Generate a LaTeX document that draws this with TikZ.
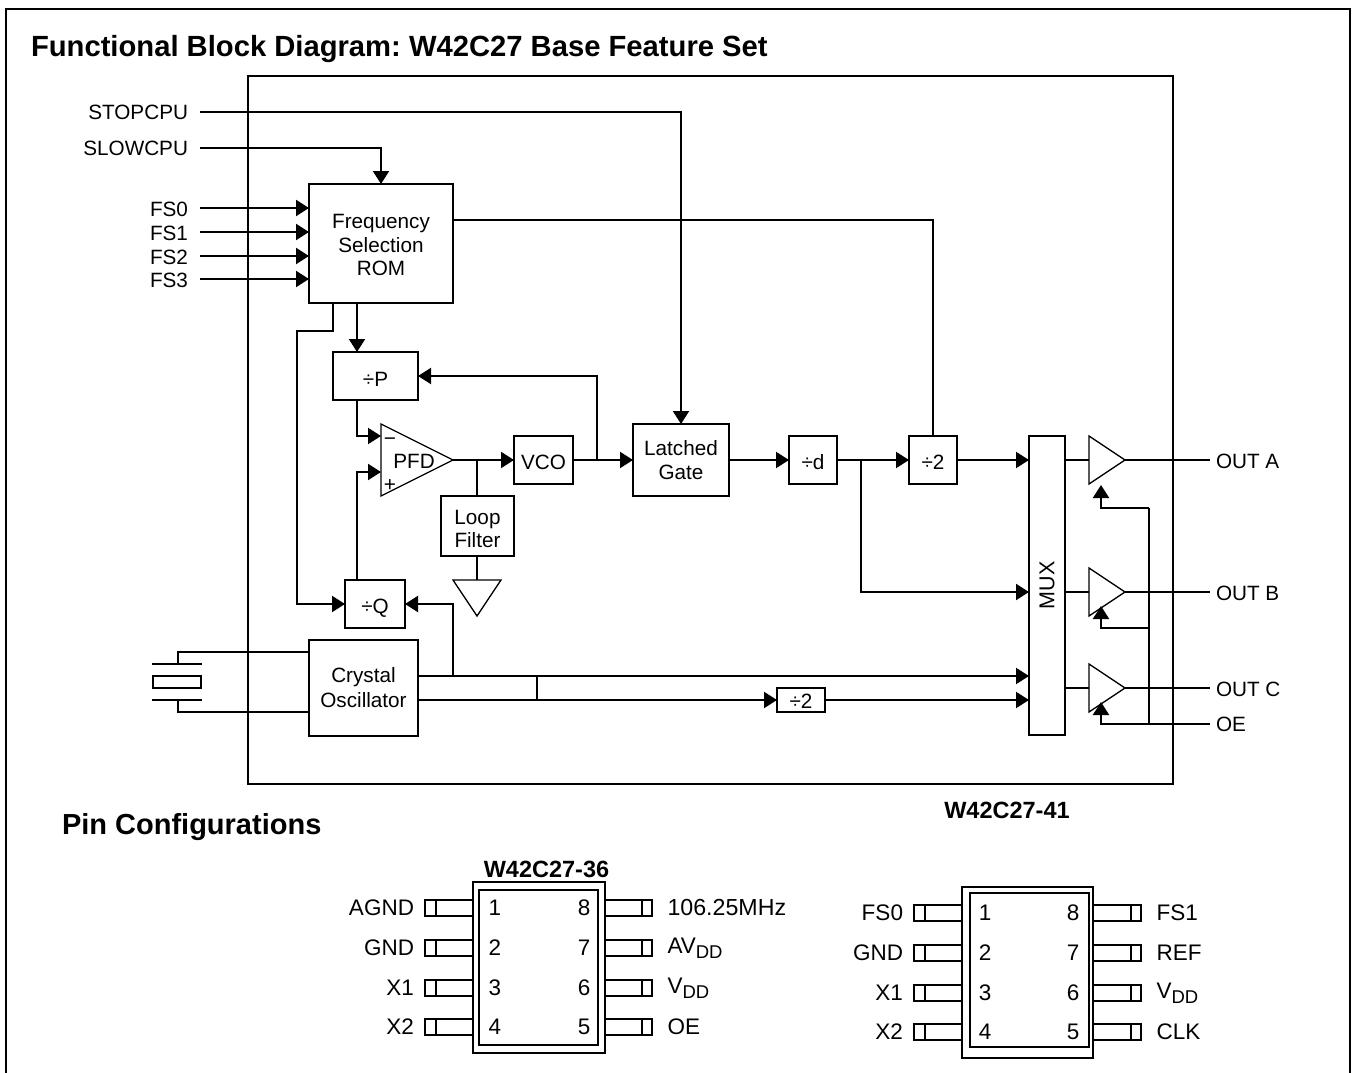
\documentclass[tikz,border=0pt]{standalone}
\usepackage{fontspec}
\setmainfont{Liberation Sans}
\usetikzlibrary{arrows.meta,calc}
\newcommand{\sbs}[1]{\raisebox{-5pt}{\fontsize{18.5}{18}\selectfont #1}}
\newcommand{\topstrut}[1]{\rule{0pt}{#1pt}}
\frenchspacing
\tikzset{
  wire/.style={line width=2.1pt,line join=miter},
  arr/.style={wire,-{Triangle[length=13pt,width=16pt,sep=0pt]}},
  blk/.style={draw,line width=2.1pt,inner sep=0pt,outer sep=0pt,align=center,font=\fontsize{20.7}{23.5}\selectfont},
  sgl/.style={draw,line width=2.1pt,inner sep=0pt,outer sep=0pt,font=\fontsize{20.7}{24}\selectfont,text height=18pt,text depth=0pt},
  thin tri/.style={line width=1.3pt,line join=miter},
  lab/.style={inner sep=0pt,outer sep=0pt,font=\fontsize{20.7}{24}\selectfont},
  labr/.style={lab,anchor=east},
  labl/.style={lab,anchor=west},
  pinl/.style={inner sep=0pt,outer sep=0pt,font=\fontsize{22.5}{24}\selectfont,anchor=east},
  pinr/.style={inner sep=0pt,outer sep=0pt,font=\fontsize{22.5}{24}\selectfont,anchor=west},
  pinnum/.style={inner sep=0pt,outer sep=0pt,font=\fontsize{22.5}{24}\selectfont},
  head/.style={inner sep=0pt,outer sep=0pt,anchor=west,font=\bfseries\fontsize{29.2}{32}\selectfont},
  subhead/.style={inner sep=0pt,outer sep=0pt,font=\bfseries\fontsize{23.5}{24}\selectfont},
  pinbox/.style={draw,line width=2.1pt,fill=white,inner sep=0pt,outer sep=0pt,minimum height=16pt},
  pkg/.style={draw,line width=2.1pt,inner sep=0pt,outer sep=0pt},
}
\begin{document}
\begin{tikzpicture}[x=1pt,y=-1pt]
\useasboundingbox (0,0) rectangle (1352,1073);
% frame
\coordinate (fbl) at (6,1073);
\coordinate (ftl) at (6,9.3);
\coordinate (ftr) at (1350,9.3);
\coordinate (fbr) at (1350,1073);
\draw[line width=2.2pt] (fbl) -- (ftl) -- (ftr) -- (fbr);
\node[head] (title) at (31,49) {Functional Block Diagram: W42C27 Base Feature Set};
% chip boundary
\node[draw,line width=2.1pt,inner sep=0pt,outer sep=0pt,minimum width=925pt,minimum height=708pt] (chip) at (710.5,430) {};

% blocks
\node[blk,minimum width=144pt,minimum height=119pt] (rom) at (381,243.5) {\topstrut{18}Frequency\\Selection\\ROM};
\node[sgl,minimum width=85pt,minimum height=48pt,text height=21pt] (divp) at (375.5,376) {÷P};
\node[sgl,minimum width=60pt,minimum height=48pt] (divq) at (375,604) {÷Q};
\node[sgl,minimum width=59pt,minimum height=48pt] (vco) at (543.5,460) {VCO};
\node[blk,minimum width=73pt,minimum height=60pt] (loop) at (477.5,526) {\topstrut{20}Loop\\Filter};
\node[blk,minimum width=96pt,minimum height=72pt] (gate) at (681,460) {Latched\\Gate};
\node[sgl,minimum width=48pt,minimum height=48pt] (divd) at (813,460) {÷d};
\node[sgl,minimum width=48pt,minimum height=48pt] (divtwo) at (933,460) {÷2};
\node[blk,minimum width=36pt,minimum height=299pt] (mux) at (1047,585.5) {\rotatebox{90}{\fontsize{21.5}{24}\selectfont MUX}};
\node[blk,font=\fontsize{20.7}{25}\selectfont,minimum width=109pt,minimum height=96pt] (osc) at (363.5,688) {Crystal\\Oscillator};
\node[sgl,minimum width=48pt,minimum height=24pt,text height=17pt] (divsm) at (801,700) {÷2};

% triangles
\coordinate (pfdt) at (381,424); \coordinate (pfdb) at (381,496); \coordinate (pfdo) at (453,460);
\draw[thin tri] (pfdt) -- (pfdo) -- (pfdb) -- cycle;
\node[lab] (pfd) at (414,461) {PFD};
\node[lab] (pfdm) at (390,442) {−};
\node[lab] (pfdp) at (390,486) {+};
\coordinate (gl) at (453,580); \coordinate (gr) at (501,580); \coordinate (gb) at (477,616);
\draw[thin tri] (gl) -- (gr) -- (gb) -- cycle;
\coordinate (bat) at (1089,436); \coordinate (bab) at (1089,484); \coordinate (bao) at (1125,460);
\draw[thin tri] (bat) -- (bao) -- (bab) -- cycle;
\coordinate (bbt) at (1089,568); \coordinate (bbb) at (1089,616); \coordinate (bbo) at (1125,592);
\draw[thin tri] (bbt) -- (bbo) -- (bbb) -- cycle;
\coordinate (bct) at (1089,664); \coordinate (bcb) at (1089,712); \coordinate (bco) at (1125,688);
\draw[thin tri] (bct) -- (bco) -- (bcb) -- cycle;
\coordinate (bai) at (1089,460); \coordinate (bbi) at (1089,592); \coordinate (bci) at (1089,688);

% external signals
\node[labr] (stop) at (188,112) {STOPCPU};
\node[labr] (slow) at (188,148) {SLOWCPU};
\node[labr] (fs0) at (188,209) {FS0};
\node[labr] (fs1) at (188,233) {FS1};
\node[labr] (fs2) at (188,257) {FS2};
\node[labr] (fs3) at (188,280) {FS3};
\node[labl] (outa) at (1216,461) {OUT A};
\node[labl] (outb) at (1216,593) {OUT B};
\node[labl] (outc) at (1216,689) {OUT C};
\node[labl] (oe) at (1216,724) {OE};

% inputs
\coordinate (stops) at (200,112); \coordinate (slows) at (200,148);
\draw[arr] (stops) -| (gate.north);
\draw[arr] (slows) -| (rom.north);
\foreach \n/\y in {0/208,1/232,2/256,3/279}{
  \coordinate (fsw\n) at (200,\y);
  \draw[arr] (fsw\n) -- (fsw\n -| rom.west);
}
% ROM outputs
\coordinate (romr) at (453,220);
\draw[wire] (romr) -| (divtwo.north);
\coordinate (romp) at (357,303);
\draw[arr] (romp) -- (romp |- divp.north);
\coordinate (romq) at (333,303);
\coordinate (qrun) at (297,331);
\draw[arr] (romq) |- (qrun) |- (divq.west);
% PLL
\coordinate (pin) at (381,436);
\coordinate (qin) at (381,472);
\draw[arr] (divp.south -| romp) |- (pin);
\draw[arr] (divq.north -| romp) |- (qin);
\draw[arr] (pfdo) -- (vco.west);
\draw[wire] (pfdo -| gb) -- (loop.north -| gb);
\draw[wire] (loop.south -| gb) -- (gl -| gb);
\draw[arr] (vco.east) -- (gate.west);
\coordinate (fb) at (597,460);
\draw[arr] (fb) |- (divp.east);
\draw[arr] (gate.east) -- (divd.west);
\draw[arr] (divd.east) -- (divtwo.west);
\draw[arr] (divtwo.east) -- (divtwo.east -| mux.west);
\coordinate (dtap) at (861,460);
\coordinate (dmux) at (1029,592);
\draw[arr] (dtap) |- (dmux);
% oscillator outputs
\coordinate (osca) at (418,676);
\coordinate (oscb) at (418,700);
\coordinate (oscm) at (1029,676);
\coordinate (oscn) at (1029,700);
\draw[arr] (osca) -- (oscm);
\draw[arr] (oscb) -- (divsm.west);
\draw[arr] (divsm.east) -- (oscn);
\coordinate (taba) at (537,676); \coordinate (tabb) at (537,700);
\draw[wire] (taba) -- (tabb);
\coordinate (qtap) at (453,676);
\draw[arr] (qtap) |- (divq.east);
% crystal
\coordinate (xtl) at (152,664); \coordinate (xtr) at (202,664);
\coordinate (xbl) at (152,700); \coordinate (xbr) at (202,700);
\node[draw,line width=2.1pt,inner sep=0pt,outer sep=0pt,minimum width=48pt,minimum height=12pt] (xtal) at (177,682) {};
\draw[wire] (xtl) -- (xtr);
\draw[wire] (xbl) -- (xbr);
\coordinate (xs1) at (178,664); \coordinate (xs1b) at (178,652); \coordinate (xs2) at (178,700); \coordinate (xs2b) at (178,712);
\draw[wire] (xs1) -- (xs1b) -- (xs1b -| osc.west);
\draw[wire] (xs2) -- (xs2b) -- (xs2b -| osc.west);
% mux to buffers
\draw[wire] (bai -| mux.east) -- (bai);
\draw[wire] (bbi -| mux.east) -- (bbi);
\draw[wire] (bci -| mux.east) -- (bci);
\coordinate (outae) at (1210,460); \coordinate (outbe) at (1210,592); \coordinate (outce) at (1210,688); \coordinate (oee) at (1210,724);
\draw[wire] (bao) -- (outae);
\draw[wire] (bbo) -- (outbe);
\draw[wire] (bco) -- (outce);
% OE
\coordinate (oetipa) at (1101,485); \coordinate (oetipb) at (1101,606); \coordinate (oetipc) at (1101,702);
\coordinate (oex) at (1149,724);
\coordinate (oea) at (1149,508); \coordinate (oeb) at (1149,628);
\draw[arr] (oee) -| (oetipc);
\draw[wire] (oex) -- (oea);
\draw[arr] (oea) -| (oetipa);
\draw[arr] (oeb) -| (oetipb);
% footers
\node[subhead] (partb) at (1007,810) {W42C27-41};
\node[head,font=\bfseries\fontsize{29}{32}\selectfont] (pincfg) at (62,827) {Pin Configurations};
\node[subhead] (parta) at (546.5,869) {W42C27-36};

% package A
\node[pkg,minimum width=132pt,minimum height=171pt] (pa) at (539,967.5) {};
\node[pkg,minimum width=119pt,minimum height=155pt] (pai) at (538.5,967.5) {};
\foreach \n/\y/\t/\m/\lt/\rt in {
  1/908/1/8/AGND/{\fontsize{23.2}{24}\selectfont 106.25MHz},
  2/948/2/7/GND/AV\sbs{DD},
  3/988/3/6/X1/V\sbs{DD},
  4/1027/4/5/X2/OE}{
  \node[pinbox,minimum width=48pt] (alb\n) at (449,\y) {};
  \coordinate (ald\n) at (436,\y);
  \draw[line width=2.1pt] ($(ald\n)+(0,-8)$) -- ($(ald\n)+(0,8)$);
  \node[pinbox,minimum width=47pt] (arb\n) at (628.5,\y) {};
  \coordinate (ard\n) at (642,\y);
  \draw[line width=2.1pt] ($(ard\n)+(0,-8)$) -- ($(ard\n)+(0,8)$);
  \node[pinnum] (ann\n) at (495,\y) {\t};
  \node[pinnum] (anm\n) at (584,\y) {\m};
  \node[pinl] (alt\n) at (414,\y) {\lt};
  \node[pinr] (art\n) at (667.5,\y) {\rt};
}
% package B
\node[pkg,minimum width=131pt,minimum height=171pt] (pb) at (1027.5,972.5) {};
\node[pkg,minimum width=119pt,minimum height=154pt] (pbi) at (1029.5,970) {};
\foreach \n/\y/\t/\m/\lt/\rt in {
  1/913/1/8/FS0/FS1,
  2/953/2/7/GND/REF,
  3/993/3/6/X1/V\sbs{DD},
  4/1032/4/5/X2/CLK}{
  \node[pinbox,minimum width=48pt] (blb\n) at (938,\y) {};
  \coordinate (bld\n) at (925,\y);
  \draw[line width=2.1pt] ($(bld\n)+(0,-8)$) -- ($(bld\n)+(0,8)$);
  \node[pinbox,minimum width=48pt] (brb\n) at (1117,\y) {};
  \coordinate (brd\n) at (1131,\y);
  \draw[line width=2.1pt] ($(brd\n)+(0,-8)$) -- ($(brd\n)+(0,8)$);
  \node[pinnum] (bnn\n) at (985,\y) {\t};
  \node[pinnum] (bnm\n) at (1073,\y) {\m};
  \node[pinl] (blt\n) at (903,\y) {\lt};
  \node[pinr] (brt\n) at (1156.5,\y) {\rt};
}
\end{tikzpicture}
\end{document}
